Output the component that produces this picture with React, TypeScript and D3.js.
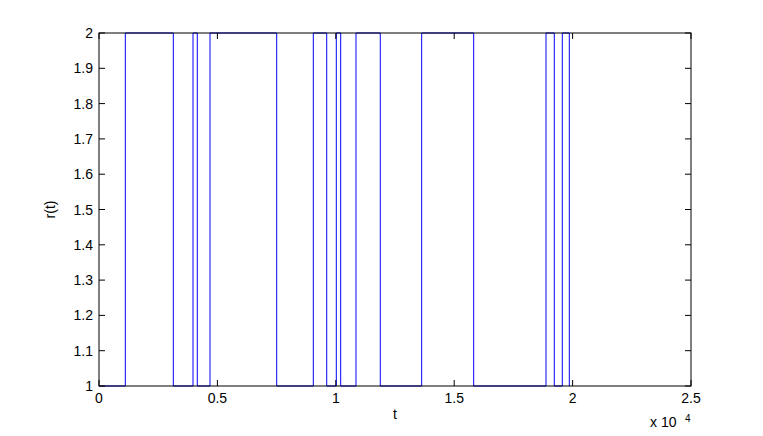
import React from "react";
import * as d3 from "d3";

// switching times (t) and the state held after each switch
const switchTimes = [0, 1111, 3138, 3970, 4151, 4688, 7504, 9050, 9616, 10021, 10207, 10853, 11879, 13627, 15823, 18877, 19227, 19565, 19861];
const states = [1, 2, 1, 2, 1, 2, 1, 2, 1, 2, 1, 2, 1, 2, 1, 2, 1, 2, 1];
const endTime = 19880;
const xTicks = [0, 5000, 10000, 15000, 20000, 25000];
const xTickLabels = ["0", "0.5", "1", "1.5", "2", "2.5"];
const yTicks = [1, 1.1, 1.2, 1.3, 1.4, 1.5, 1.6, 1.7, 1.8, 1.9, 2];
const yTickLabels = ["1", "1.1", "1.2", "1.3", "1.4", "1.5", "1.6", "1.7", "1.8", "1.9", "2"];

const W = 763, H = 436;
const L = 99, R = 691, T = 33, B = 386;

export default function App() {
  const x = d3.scaleLinear().domain([0, 25000]).range([L, R]);
  const y = d3.scaleLinear().domain([1, 2]).range([B, T]);
  const pts: [number, number][] = switchTimes.map((t, i) => [t, states[i]]);
  pts.push([endTime, states[states.length - 1]]);
  const line = d3.line<[number, number]>().x(d => x(d[0])).y(d => y(d[1])).curve(d3.curveStepAfter);
  const font = "'Liberation Sans', Arial, Helvetica, sans-serif";
  const tl = 6;
  return (
    <svg width={W} height={H} style={{ position: "absolute", left: 0, top: 0, background: "#fff" }} fontFamily={font}>
      <rect x={0} y={0} width={W} height={H} fill="#fff" />
      <path d={line(pts) || ""} fill="none" stroke="#0000ff" strokeWidth={1} />
      <rect x={L} y={T} width={R - L} height={B - T} fill="none" stroke="#000" strokeWidth={1} />
      {xTicks.map((t, i) => (
        <g key={"x" + i}>
          <line x1={x(t)} x2={x(t)} y1={B} y2={B - tl} stroke="#000" />
          <line x1={x(t)} x2={x(t)} y1={T} y2={T + tl} stroke="#000" />
          <text x={x(t)} y={403} fontSize={14} textAnchor="middle">{xTickLabels[i]}</text>
        </g>
      ))}
      {yTicks.map((v, i) => (
        <g key={"y" + i}>
          <line x1={L} x2={L + tl} y1={y(v)} y2={y(v)} stroke="#000" />
          <line x1={R} x2={R - tl} y1={y(v)} y2={y(v)} stroke="#000" />
          <text x={93} y={y(v) + 5} fontSize={14} textAnchor="end">{yTickLabels[i]}</text>
        </g>
      ))}
      <text x={(L + R) / 2} y={419} fontSize={14} textAnchor="middle">t</text>
      <text transform={`translate(55,${(T + B) / 2}) rotate(-90)`} fontSize={14} textAnchor="middle">r(t)</text>
      <text x={650} y={427} fontSize={14}>x 10</text>
      <text x={685} y={422} fontSize={10}>4</text>
    </svg>
  );
}
